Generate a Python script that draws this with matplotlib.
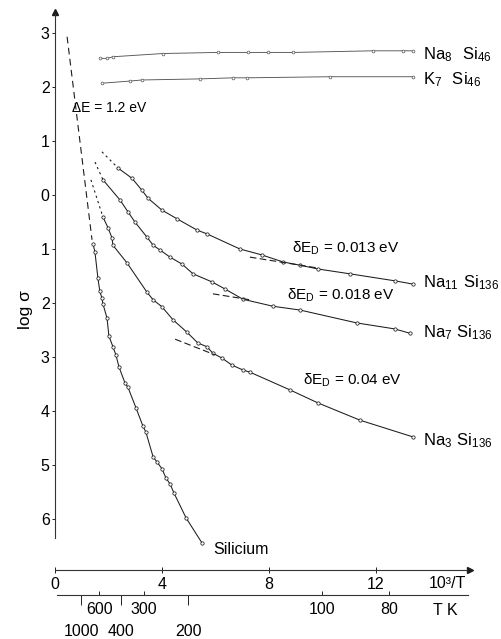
import numpy as np
import matplotlib
matplotlib.use("Agg")
import matplotlib.pyplot as plt

plt.rcParams['font.family'] = ['Liberation Sans', 'DejaVu Sans']

# log sigma against 10^3/T
si_x = [1.44, 1.51, 1.62, 1.69, 1.77, 1.81, 1.96, 2.03, 2.18, 2.29, 2.41, 2.63, 2.74,
        3.04, 3.30, 3.41, 3.68, 3.82, 4.01, 4.16, 4.31, 4.46, 4.91, 5.50]
si_y = [-0.91, -1.06, -1.54, -1.78, -1.91, -2.02, -2.28, -2.61, -2.81, -2.96, -3.19, -3.48, -3.56,
        -3.94, -4.28, -4.39, -4.85, -4.94, -5.07, -5.24, -5.35, -5.52, -5.98, -6.44]
si_gap_x = [0.47, 1.40]
si_gap_y = [2.93, -0.83]

na8_x = [1.70, 1.96, 2.18, 4.05, 6.10, 7.22, 7.97, 8.90, 11.88, 13.00, 13.38]
na8_y = [2.53, 2.53, 2.56, 2.62, 2.64, 2.64, 2.64, 2.64, 2.67, 2.67, 2.67]

k7_x = [1.77, 2.82, 3.26, 5.43, 6.66, 7.18, 10.28, 13.38]
k7_y = [2.07, 2.11, 2.13, 2.15, 2.17, 2.17, 2.19, 2.19]

na11_x = [2.37, 2.89, 3.26, 3.49, 4.01, 4.57, 5.32, 5.69, 6.92, 7.74, 8.53, 9.16, 9.83, 11.03, 12.71, 13.38]
na11_y = [0.50, 0.31, 0.09, -0.06, -0.28, -0.44, -0.65, -0.72, -1.00, -1.11, -1.24, -1.30, -1.37, -1.46, -1.59, -1.65]
na11_hot_x = [1.77, 2.37]
na11_hot_y = [0.80, 0.50]
na11_tan_x = [7.29, 9.80]
na11_tan_y = [-1.15, -1.35]

na7_x = [1.81, 2.44, 2.74, 3.00, 3.45, 3.68, 3.94, 4.31, 4.76, 5.17, 5.88, 6.36, 7.03, 8.15, 9.16, 11.29, 12.70, 13.26]
na7_y = [0.28, -0.09, -0.31, -0.50, -0.78, -0.93, -1.02, -1.15, -1.28, -1.46, -1.61, -1.74, -1.93, -2.06, -2.13, -2.37, -2.48, -2.56]
na7_hot_x = [1.51, 1.81]
na7_hot_y = [0.61, 0.28]
na7_tan_x = [5.91, 7.29]
na7_tan_y = [-1.83, -1.94]

na3_x = [1.81, 2.00, 2.15, 2.18, 2.71, 3.45, 3.68, 4.01, 4.42, 4.94, 5.35, 5.69, 5.91, 6.25, 6.62,
         7.03, 7.29, 8.79, 9.83, 11.40, 13.38]
na3_y = [-0.41, -0.61, -0.80, -0.93, -1.26, -1.80, -1.94, -2.07, -2.31, -2.54, -2.74, -2.81, -2.93, -3.02, -3.15,
         -3.24, -3.28, -3.61, -3.85, -4.17, -4.48]
na3_hot_x = [1.36, 1.81]
na3_hot_y = [0.28, -0.41]
na3_tan_x = [4.50, 5.99]
na3_tan_y = [-2.67, -2.96]

y_ticks = [3, 2, 1, 0, -1, -2, -3, -4, -5, -6]
y_labels = ['3', '2', '1', '0', '1', '2', '3', '4', '5', '6']
x_ticks = [0, 4, 8, 12]
x_labels = ['0', '4', '8', '12']
t_low = [1000, 400, 200]
t_high = [600, 300, 100, 80]

ink = '#1c1c1c'
line_kw = dict(color=ink, lw=0.75, marker='o', ms=2.4, mfc='white', mec=ink, mew=0.55)


def recip(v):
    v = np.asarray(v, dtype=float)
    with np.errstate(divide='ignore'):
        return 1000.0 / v


fig = plt.figure(figsize=(5.02, 6.39), dpi=100)
ax = fig.add_axes([0, 0, 1, 1])
ax.set_xlim(-2.034, 16.70)
ax.set_ylim(-8.222, 3.611)

ax.plot(si_x, si_y, **line_kw)
ax.plot(si_gap_x, si_gap_y, color=ink, lw=0.8, ls=(0, (6, 4)))
ax.plot(na8_x, na8_y, color='#555555', lw=0.65, marker='o', ms=2, mfc='white', mec='#555555', mew=0.5)
ax.plot(k7_x, k7_y, color='#555555', lw=0.65, marker='o', ms=2, mfc='white', mec='#555555', mew=0.5)

for xs, ys, hx, hy, tx, ty in [(na11_x, na11_y, na11_hot_x, na11_hot_y, na11_tan_x, na11_tan_y),
                               (na7_x, na7_y, na7_hot_x, na7_hot_y, na7_tan_x, na7_tan_y),
                               (na3_x, na3_y, na3_hot_x, na3_hot_y, na3_tan_x, na3_tan_y)]:
    ax.plot(xs, ys, **line_kw)
    ax.plot(hx, hy, color=ink, lw=0.8, ls=(0, (2, 3)))
    ax.plot(tx, ty, color=ink, lw=0.8, ls=(0, (6, 3)))

# axes
for s in ['top', 'right']:
    ax.spines[s].set_visible(False)
ax.spines['left'].set_position(('data', 0))
ax.spines['left'].set_bounds(-6.35, 3.35)
ax.spines['bottom'].set_position(('data', -6.94))
ax.spines['bottom'].set_bounds(0, 15.4)
for s in ['left', 'bottom']:
    ax.spines[s].set_linewidth(0.8)
    ax.spines[s].set_color('#333333')
ax.plot(0, 3.38, marker='^', ms=5, color=ink, clip_on=False)
ax.plot(15.5, -6.94, marker='>', ms=5, color=ink, clip_on=False)

ax.set_yticks(y_ticks, labels=y_labels)
ax.set_xticks(x_ticks, labels=x_labels)
ax.tick_params(axis='y', direction='out', length=2, width=0.6, pad=1.5, labelsize=11.5)
ax.tick_params(axis='x', direction='inout', length=4, width=0.6, pad=3, labelsize=11.5)

y_t = -7.41
sec = ax.secondary_xaxis((y_t + 8.222) / 11.833, functions=(recip, recip))
sec.set_xticks(t_low, labels=[str(t) for t in t_low])
sec.set_xticks(t_high, labels=[str(t) for t in t_high], minor=True)
sec.tick_params(which='major', direction='out', length=7, width=0.6, pad=14, labelsize=11.5)
sec.tick_params(which='minor', direction='in', length=3, width=0.6, pad=5, labelsize=11.5)
sec.spines['bottom'].set_bounds(10000, 64.8)
sec.spines['bottom'].set_linewidth(0.8)
sec.spines['bottom'].set_color('#333333')

# texts
ax.text(-1.10, -2.13, 'log σ', rotation=90, ha='center', va='center', fontsize=12.5)
ax.text(14.68, -7.19, '10³/T', ha='center', va='center', fontsize=11.5)
ax.text(14.57, -7.69, 'T K', ha='center', va='center', fontsize=11.5)
ax.text(2.03, 1.61, 'ΔE = 1.2 eV', ha='center', va='center', fontsize=10)
ax.text(8.86, -0.98, r'δE$_\mathregular{D}$ = 0.013 eV', ha='left', va='center', fontsize=11)
ax.text(8.68, -1.85, r'δE$_\mathregular{D}$ = 0.018 eV', ha='left', va='center', fontsize=11)
ax.text(9.27, -3.43, r'δE$_\mathregular{D}$ = 0.04 eV', ha='left', va='center', fontsize=11)
ax.text(13.75, 2.59, r'$\mathregular{Na_8\ \ Si_{46}}$', ha='left', va='center', fontsize=12)
ax.text(13.75, 2.13, r'$\mathregular{K_7\ \ Si_{46}}$', ha='left', va='center', fontsize=12)
ax.text(13.75, -1.63, r'$\mathregular{Na_{11}\ Si_{136}}$', ha='left', va='center', fontsize=12)
ax.text(13.75, -2.54, r'$\mathregular{Na_7\ Si_{136}}$', ha='left', va='center', fontsize=12)
ax.text(13.75, -4.54, r'$\mathregular{Na_3\ Si_{136}}$', ha='left', va='center', fontsize=12)
ax.text(5.91, -6.56, 'Silicium', ha='left', va='center', fontsize=11.5)

fig.savefig('out.png', dpi=100)
